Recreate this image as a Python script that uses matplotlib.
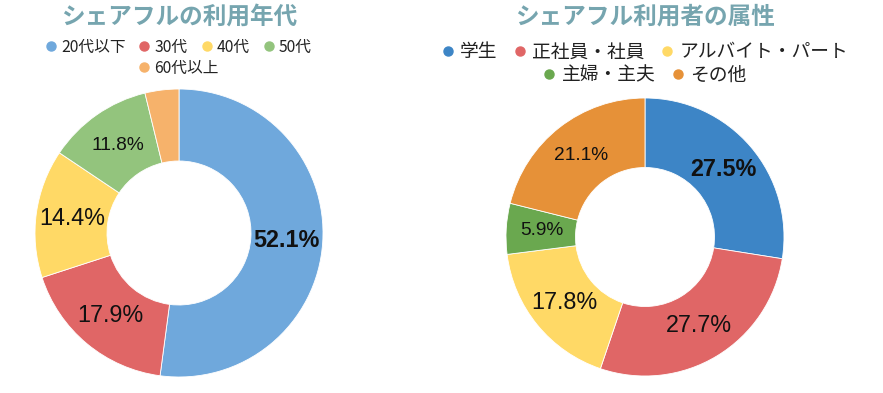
import matplotlib
matplotlib.use("Agg")
import matplotlib.pyplot as plt
from matplotlib.lines import Line2D
import numpy as np

plt.rcParams['font.family'] = ['Noto Sans CJK JP', 'DejaVu Sans']

# ---- data ----
title_left = "シェアフルの利用年代"
cats_left = ["20代以下", "30代", "40代", "50代", "60代以上"]
vals_left = [52.1, 17.9, 14.4, 11.8, 3.8]
labels_left = ["52.1%", "17.9%", "14.4%", "11.8%", ""]

title_right = "シェアフル利用者の属性"
cats_right = ["学生", "正社員・社員", "アルバイト・パート", "主婦・主夫", "その他"]
vals_right = [27.5, 27.7, 17.8, 5.9, 21.1]
labels_right = ["27.5%", "27.7%", "17.8%", "5.9%", "21.1%"]

# ---- styles ----
colors_left = ["#6fa8dc", "#e06666", "#ffd966", "#93c47d", "#f6b26b"]
colors_right = ["#3d85c6", "#e06666", "#ffd966", "#6aa84f", "#e69138"]
fs_left = [16.8, 16.8, 16.8, 13.8, 12]
fs_right = [16.8, 16.8, 16.8, 13.8, 13.8]
title_color = "#76a5af"

W, H = 883, 393
fig = plt.figure(figsize=(W / 100, H / 100), dpi=100)


def donut(cx, cy, r, vals, colors, labels, sizes):
    ax = fig.add_axes([(cx - r) / W, (H - cy - r) / H, 2 * r / W, 2 * r / H])
    wedges, _ = ax.pie(vals, colors=colors, startangle=90, counterclock=False,
                       wedgeprops=dict(width=0.5, edgecolor="white", linewidth=0.6))
    for w in wedges:
        w.set_clip_on(False)
    total = sum(vals)
    cum = 0
    for i, (v, lab) in enumerate(zip(vals, labels)):
        mid = cum + v / 2
        cum += v
        if not lab:
            continue
        ang = np.deg2rad(90 - 360 * mid / total)
        x, y = 0.745 * np.cos(ang), 0.745 * np.sin(ang)
        ax.text(x, y, lab, ha="center", va="center", fontsize=sizes[i],
                fontweight="bold" if i == 0 else "normal", color="#111111",
                family=["Liberation Sans", "DejaVu Sans"])
    ax.set_xlim(-1, 1)
    ax.set_ylim(-1, 1)
    ax.set_aspect("equal")
    ax.axis("off")
    return ax


donut(179, 233, 144, vals_left, colors_left, labels_left, fs_left)
donut(645, 237, 139, vals_right, colors_right, labels_right, fs_right)

fig.text(179 / W, 1 - 17 / H, title_left, ha="center", va="center",
         fontsize=17, fontweight="bold", color=title_color)
fig.text(645 / W, 1 - 17 / H, title_right, ha="center", va="center",
         fontsize=17, fontweight="bold", color=title_color)


def leg(cats, colors, cx, cy, fs, ms):
    handles = [Line2D([], [], marker="o", linestyle="none", markersize=ms,
                      markerfacecolor=c, markeredgecolor=c) for c in colors]
    fig.legend(handles, cats, loc="center", bbox_to_anchor=(cx / W, 1 - cy / H),
               ncol=len(cats), frameon=False, fontsize=fs, handlelength=0.6,
               handletextpad=0.35, columnspacing=0.9, borderpad=0,
               labelcolor="#222222")


leg(cats_left[:4], colors_left[:4], 179, 47, 11.3, 6.5)
leg(cats_left[4:], colors_left[4:], 179, 68, 11.3, 6.5)
leg(cats_right[:3], colors_right[:3], 645, 52, 13.5, 6.5)
leg(cats_right[3:], colors_right[3:], 645, 75, 13.5, 6.5)

fig.savefig("out.png", dpi=100, facecolor="white")
